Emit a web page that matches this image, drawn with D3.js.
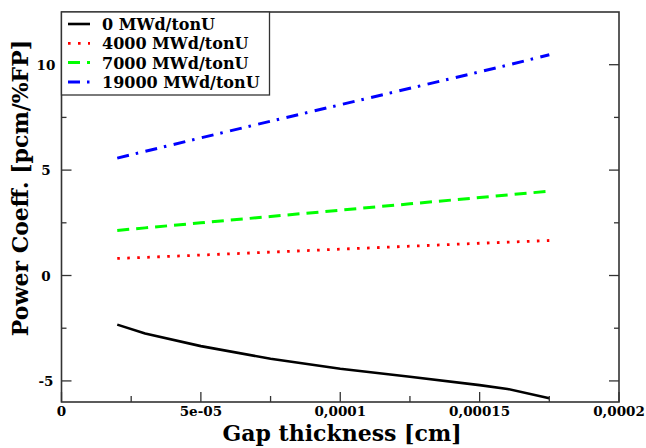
<!DOCTYPE html>
<html><head><meta charset="utf-8">
<script src="https://cdn.jsdelivr.net/npm/d3@7"></script>
<style>body{margin:0;background:#fff}svg{display:block}text{font-family:"DejaVu Serif","Liberation Serif",serif;font-weight:bold;fill:#000}</style>
</head><body><svg id="c" width="646" height="448"></svg>
<script>
const gap = [2e-5, 3e-5, 5e-5, 7.5e-5, 1e-4, 1.25e-4, 1.5e-4, 1.6e-4, 1.75e-4];
const burnup0 = [-2.33, -2.75, -3.35, -3.95, -4.42, -4.8, -5.2, -5.38, -5.82];
const burnup4000 = [0.81, 0.86, 0.97, 1.11, 1.25, 1.39, 1.53, 1.58, 1.66];
const burnup7000 = [2.14, 2.26, 2.5, 2.8, 3.1, 3.4, 3.7, 3.82, 4.0];
const burnup19000 = [5.57, 5.89, 6.53, 7.32, 8.1, 8.88, 9.66, 9.98, 10.47];
const seriesNames = ["0 MWd/tonU", "4000 MWd/tonU", "7000 MWd/tonU", "19000 MWd/tonU"];
const xTicks = [0, 5e-5, 1e-4, 1.5e-4, 2e-4];
const xTickLabels = ["0", "5e-05", "0,0001", "0,00015", "0,0002"];
const yTicks = [-5, 0, 5, 10];

const series = [
  {name: seriesNames[0], values: burnup0, color: "#000", dash: null, width: 2.6},
  {name: seriesNames[1], values: burnup4000, color: "#ff0000", dash: "2.6,7.4", width: 2.8},
  {name: seriesNames[2], values: burnup7000, color: "#00ff00", dash: "12,7", width: 3},
  {name: seriesNames[3], values: burnup19000, color: "#0000ff", dash: "12,7,2.5,7.5", width: 3}
];

const svg = d3.select("#c");
const L = 61.5, R = 619, T = 12, B = 402;
const x = d3.scaleLinear().domain([0, 2e-4]).range([L, R]);
const y = d3.scaleLinear().domain([-6, 12.5]).range([B, T]);

const line = d3.line().x((d, i) => x(gap[i])).y(d => y(d));
series.forEach(s => {
  svg.append("path").attr("d", line(s.values)).attr("fill", "none")
    .attr("stroke", s.color).attr("stroke-width", s.width)
    .attr("stroke-dasharray", s.dash).attr("stroke-linejoin", "round");
});

// ticks
const minorX = d3.range(0, 2.0001e-4, 2.5e-5);
const minorY = d3.range(-5, 12.5, 2.5);
const tk = svg.append("g").attr("stroke", "#333").attr("stroke-width", 1.3);
minorX.forEach(v => {
  const major = xTicks.some(t => Math.abs(t - v) < 1e-9);
  tk.append("line").attr("x1", x(v)).attr("x2", x(v)).attr("y1", B).attr("y2", B - (major ? 10 : 6));
});
minorY.forEach(v => {
  const major = yTicks.includes(v);
  const len = major ? 10 : 5;
  tk.append("line").attr("x1", L).attr("x2", L + len).attr("y1", y(v)).attr("y2", y(v));
  tk.append("line").attr("x1", R).attr("x2", R - len).attr("y1", y(v)).attr("y2", y(v));
});

svg.append("rect").attr("x", L).attr("y", T).attr("width", R - L).attr("height", B - T)
  .attr("fill", "none").attr("stroke", "#333").attr("stroke-width", 1.6);

// tick labels
xTicks.forEach((t, i) => {
  svg.append("text").attr("x", x(t)).attr("y", 416).attr("text-anchor", "middle")
    .attr("font-size", 13.5).text(xTickLabels[i]);
});
yTicks.forEach(t => {
  svg.append("text").attr("x", 46).attr("y", y(t) + 5).attr("text-anchor", "middle")
    .attr("font-size", 13.5).text(t);
});

// axis titles
svg.append("text").attr("x", 342).attr("y", 441).attr("text-anchor", "middle")
  .attr("font-size", 22).text("Gap thickness [cm]");
svg.append("text").attr("transform", "translate(28," + 188 + ") rotate(-90)")
  .attr("text-anchor", "middle").attr("font-size", 22).text("Power Coeff. [pcm/%FP]");

// legend
const lg = svg.append("g");
lg.append("rect").attr("x", L).attr("y", T).attr("width", 208).attr("height", 83)
  .attr("fill", "#fff").attr("stroke", "#333").attr("stroke-width", 1.3);
series.forEach((s, i) => {
  const yy = 24 + i * 19.3;
  lg.append("line").attr("x1", 68).attr("x2", 90).attr("y1", yy).attr("y2", yy)
    .attr("stroke", s.color).attr("stroke-width", s.width)
    .attr("stroke-dasharray", s.dash);
  lg.append("text").attr("x", 102).attr("y", yy + 6).attr("font-size", 16).text(s.name);
});
</script></body></html>
